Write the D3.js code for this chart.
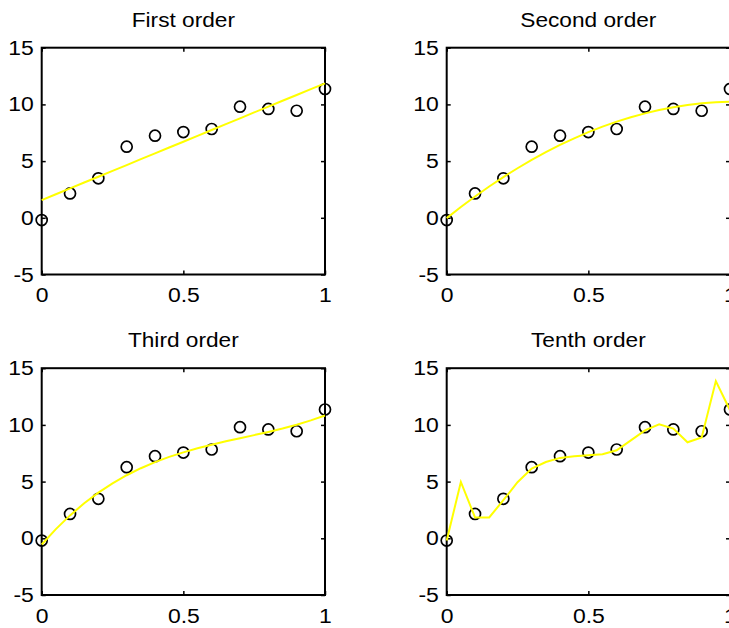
<!DOCTYPE html>
<html>
<head>
<meta charset="utf-8">
<script src="https://cdn.jsdelivr.net/npm/d3@7"></script>
<style>
  body { margin: 0; background: #fff; }
  svg { display: block; }
  text { font-family: "Liberation Sans", Arial, sans-serif; fill: #000; }
</style>
</head>
<body>
<svg id="chart" width="729" height="628"></svg>
<script>
// sample points
const xData = [0, 0.1, 0.2, 0.3, 0.4, 0.5, 0.6, 0.7, 0.8, 0.9, 1.0];
const yData = [-0.2, 2.15, 3.48, 6.27, 7.24, 7.56, 7.83, 9.8, 9.6, 9.44, 11.36];

// fitted curves, evaluated on a 0.05 grid
const xFit = [0, 0.05, 0.1, 0.15, 0.2, 0.25, 0.3, 0.35, 0.4, 0.45, 0.5,
              0.55, 0.6, 0.65, 0.7, 0.75, 0.8, 0.85, 0.9, 0.95, 1.0];
const fitFirst = [1.56, 2.08, 2.59, 3.11, 3.62, 4.14, 4.65, 5.17, 5.68, 6.20, 6.71,
                  7.23, 7.74, 8.26, 8.77, 9.29, 9.80, 10.32, 10.83, 11.35, 11.86];
const fitSecond = [-0.03, 0.95, 1.88, 2.76, 3.59, 4.37, 5.11, 5.79, 6.43, 7.01, 7.55,
                   8.04, 8.48, 8.87, 9.21, 9.51, 9.75, 9.95, 10.10, 10.19, 10.24];
const fitThird = [-0.55, 0.81, 2.02, 3.09, 4.03, 4.85, 5.56, 6.18, 6.72, 7.18, 7.58,
                  7.94, 8.25, 8.55, 8.82, 9.10, 9.38, 9.68, 10.02, 10.40, 10.83];
const fitTenth = [-0.2, 4.97, 1.84, 1.84, 3.36, 4.95, 6.15, 6.73, 7.09, 7.23, 7.32,
                  7.41, 7.76, 8.64, 9.52, 10.05, 9.67, 8.47, 8.9, 13.86, 11.3];

const titles = ["First order", "Second order", "Third order", "Tenth order"];
const fits = [fitFirst, fitSecond, fitThird, fitTenth];
const xTicks = [0, 0.5, 1];
const yTicks = [-5, 0, 5, 10, 15];

let plotW = 283.3;
let plotH = 226.8;
let origins = [
    { left: 41.7, top: 47.7 },
    { left: 446.7, top: 47.7 },
    { left: 41.7, top: 368.2 },
    { left: 446.7, top: 368.2 }
];

// plain hyphen for negatives, like the original
let fmt = function (d) { return String(d); };

let svg = d3.select('#chart');

let x = d3.scaleLinear().domain([0, 1]).range([0, plotW]);
let y = d3.scaleLinear().domain([-5, 15]).range([plotH, 0]);

let line = d3.line()
    .x(function (d, i) { return x(xFit[i]); })
    .y(function (d) { return y(d); });

titles.forEach(function (title, k) {
    let o = origins[k];
    let g = svg.append('g')
        .attr('transform', 'translate(' + o.left + ', ' + o.top + ')');

    // axes: labels on left/bottom, inward ticks on all four sides
    let left = g.append('g')
        .call(d3.axisLeft(y).tickValues(yTicks).tickSize(-4).tickPadding(7).tickFormat(fmt));
    let right = g.append('g')
        .attr('transform', 'translate(' + plotW + ', 0)')
        .call(d3.axisRight(y).tickValues(yTicks).tickSize(-4).tickFormat(''));
    let bottom = g.append('g')
        .attr('transform', 'translate(0, ' + plotH + ')')
        .call(d3.axisBottom(x).tickValues(xTicks).tickSize(-4).tickPadding(13).tickFormat(fmt));
    let top = g.append('g')
        .call(d3.axisTop(x).tickValues(xTicks).tickSize(-4).tickFormat(''));

    [left, right, bottom, top].forEach(function (a) {
        a.select('.domain').remove();
        a.selectAll('line').attr('stroke', '#000').attr('stroke-width', 1.5);
        a.selectAll('text')
            .attr('font-size', 20.5)
            .attr('fill', '#000')
            .attr('transform', 'scale(1.12, 1)')
            .style('font-family', '"Liberation Sans", Arial, sans-serif');
    });

    g.append('rect')
        .attr('width', plotW)
        .attr('height', plotH)
        .attr('fill', 'none')
        .attr('stroke', '#000')
        .attr('stroke-width', 2);

    g.selectAll('circle').data(yData)
        .enter().append('circle')
        .attr('cx', function (d, i) { return x(xData[i]); })
        .attr('cy', function (d) { return y(d); })
        .attr('r', 5.5)
        .attr('fill', 'none')
        .attr('stroke', '#000')
        .attr('stroke-width', 1.7);

    g.append('path')
        .datum(fits[k])
        .attr('d', line)
        .attr('fill', 'none')
        .attr('stroke', '#ffff00')
        .attr('stroke-width', 2);

    g.append('text')
        .attr('transform', 'translate(' + (plotW / 2) + ', -21) scale(1.08, 1)')
        .attr('text-anchor', 'middle')
        .attr('font-size', 21)
        .text(title);
});
</script>
</body>
</html>
